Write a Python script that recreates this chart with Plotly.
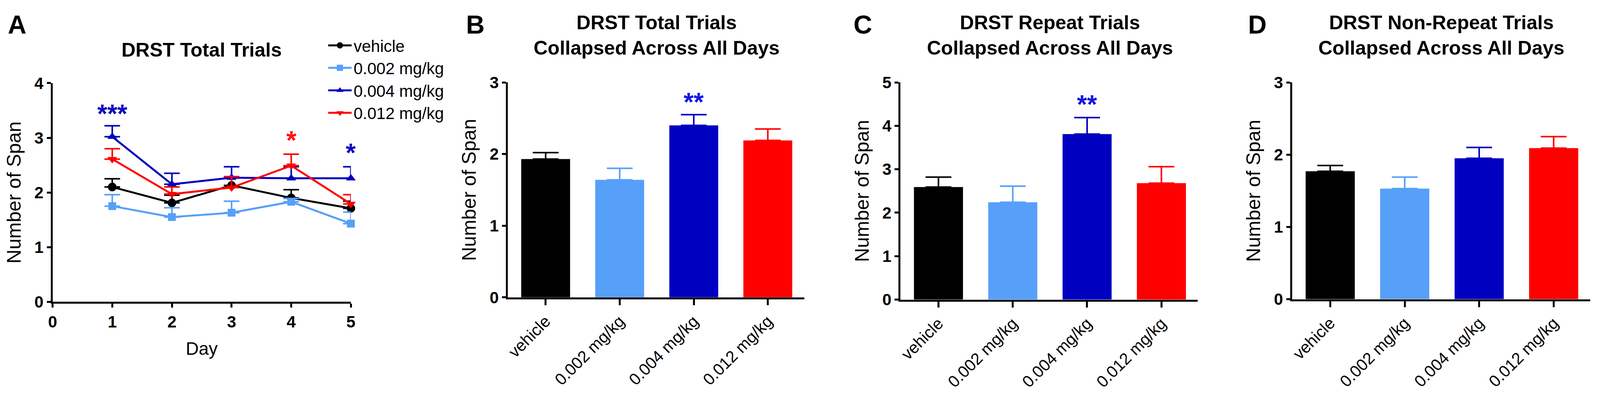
import plotly.graph_objects as go

# the browser shows 4096x1012 with an 8px body margin, so the figure is 4080x996
W, H = 4080, 996
SX = 4096 / 4650  # horizontal squeeze from reference pixels to screen pixels

# ---- data ----
groups = ["vehicle", "0.002 mg/kg", "0.004 mg/kg", "0.012 mg/kg"]
colors = ["#000000", "#56A0FA", "#0000C0", "#FF0000"]
symbols = ["circle", "square", "triangle-up", "triangle-down"]

days = [1, 2, 3, 4, 5]
day_mean = {
    "vehicle":     [2.10, 1.81, 2.13, 1.90, 1.71],
    "0.002 mg/kg": [1.75, 1.55, 1.63, 1.83, 1.43],
    "0.004 mg/kg": [3.02, 2.15, 2.27, 2.26, 2.26],
    "0.012 mg/kg": [2.61, 1.97, 2.09, 2.49, 1.79],
}
day_sem = {
    "vehicle":     [0.15, 0.14, 0.14, 0.15, 0.13],
    "0.002 mg/kg": [0.21, 0.17, 0.21, 0.06, 0.21],
    "0.004 mg/kg": [0.20, 0.20, 0.20, 0.21, 0.21],
    "0.012 mg/kg": [0.19, 0.13, 0.20, 0.21, 0.17],
}

total_mean = [1.93, 1.64, 2.40, 2.19]
total_sem = [0.09, 0.16, 0.15, 0.16]
repeat_mean = [2.59, 2.24, 3.81, 2.68]
repeat_sem = [0.23, 0.37, 0.38, 0.38]
nonrep_mean = [1.77, 1.53, 1.95, 2.09]
nonrep_sem = [0.08, 0.16, 0.15, 0.16]


def fx(p):
    # reference x pixel -> paper fraction
    return (p * SX - 8) / W


def fy(p):
    # reference y pixel -> paper fraction
    return 1 - (p - 8) / H


FONT = "Liberation Sans, Arial, Helvetica, sans-serif"
BOLD = dict(family=FONT, size=42, color="black", weight="bold")
REG = dict(family=FONT, size=42, color="black")

fig = go.Figure()

# ---- panel A: lines per day ----
for g, c, s in zip(groups, colors, symbols):
    up = day_sem[g]
    fig.add_trace(go.Scatter(
        x=days, y=day_mean[g], name=g, mode="lines+markers",
        line=dict(color=c, width=5),
        marker=dict(color=c, symbol=s, size=22 if s != "square" else 20),
        error_y=dict(type="data", symmetric=False, array=up,
                     arrayminus=[0] * len(up), color=c, thickness=4, width=20),
        xaxis="x", yaxis="y", cliponaxis=False,
    ))

# ---- panels B, C, D: bars ----
bar_sets = [(total_mean, total_sem, "x2", "y2"),
            (repeat_mean, repeat_sem, "x3", "y3"),
            (nonrep_mean, nonrep_sem, "x4", "y4")]
for m, e, xa, ya in bar_sets:
    for i, g in enumerate(groups):
        fig.add_trace(go.Bar(
            x=[g], y=[m[i]], width=0.66, marker=dict(color=colors[i], line=dict(width=0)),
            error_y=dict(type="data", symmetric=False, array=[e[i]], arrayminus=[0],
                         color=colors[i], thickness=4, width=33),
            xaxis=xa, yaxis=ya, showlegend=False, cliponaxis=False,
        ))

axis_common = dict(showline=True, linecolor="black", linewidth=5, ticks="outside",
                   tickcolor="black", tickwidth=5, showgrid=False, zeroline=False)
ytitle = dict(text="Number of Span", font=dict(family=FONT, size=50, color="black"), standoff=20)

layout_axes = {}
layout_axes["xaxis"] = dict(domain=[fx(140), fx(1012)], range=[0, 5],
                            tickvals=[0, 1, 2, 3, 4, 5], ticklen=10, tickfont=BOLD, anchor="y",
                            title=dict(text="Day", font=dict(family=FONT, size=46, color="black"),
                                       standoff=32), **axis_common)
layout_axes["yaxis"] = dict(domain=[fy(787), fy(199)], range=[0, 4], dtick=1,
                            ticklen=10, tickfont=BOLD, anchor="x", title=ytitle, **axis_common)

bar_dom = [((1471, 2337), (775, 197), 3), ((2619, 3488), (781, 197), 5),
           ((3764, 4635), (780, 197), 3)]
for k, ((x0, x1), (yb, yt), ymax) in enumerate(bar_dom, start=2):
    layout_axes[f"xaxis{k}"] = dict(domain=[fx(x0), fx(x1)], range=[-0.51, 3.49],
                                    type="category", ticklen=15, tickangle=-45,
                                    tickfont=REG, anchor=f"y{k}", **axis_common)
    layout_axes[f"yaxis{k}"] = dict(domain=[fy(yb), fy(yt)], range=[0, ymax], dtick=1,
                                    ticklen=10, tickfont=BOLD, anchor=f"x{k}",
                                    title=ytitle, **axis_common)

annotations = []
# panel letters
for letter, cx in [("A", 36), ("B", 1376), ("C", 2509), ("D", 3662)]:
    annotations.append(dict(text=letter, x=fx(cx), y=fy(42), xref="paper", yref="paper",
                            showarrow=False, xanchor="center", yanchor="middle",
                            font=dict(family=FONT, size=66, color="black", weight="bold")))
# titles
titles = [("DRST Total Trials", 576, 110),
          ("DRST Total Trials<br>Collapsed Across All Days", 1906, 70),
          ("DRST Repeat Trials<br>Collapsed Across All Days", 3056, 70),
          ("DRST Non-Repeat Trials<br>Collapsed Across All Days", 4200, 70)]
for t, cx, cy in titles:
    annotations.append(dict(text=t, x=fx(cx), y=fy(cy), xref="paper", yref="paper",
                            showarrow=False, xanchor="center", yanchor="middle",
                            font=dict(family=FONT, size=50, color="black", weight="bold")))
# significance stars
stars = [("***", 1, 3.44, "x", "y", "#0A0AC0"),
         ("*", 4, 2.96, "x", "y", "#FF1010"),
         ("*", 5, 2.73, "x", "y", "#0A0AC0"),
         ("**", "0.004 mg/kg", 2.73, "x2", "y2", "#1515E0"),
         ("**", "0.004 mg/kg", 4.50, "x3", "y3", "#1515E0")]
for t, x, y, xr, yr, c in stars:
    annotations.append(dict(text=t, x=x, y=y, xref=xr, yref=yr, showarrow=False,
                            xanchor="center", yanchor="middle",
                            font=dict(family=FONT, size=66, color=c, weight="bold")))

fig.update_layout(
    width=W, height=H, margin=dict(l=0, r=0, t=0, b=0),
    plot_bgcolor="white", paper_bgcolor="white",
    font=dict(family=FONT, color="black"),
    barmode="overlay",
    showlegend=True,
    legend=dict(x=fx(940), y=fy(62), xanchor="left", yanchor="top",
                font=dict(family=FONT, size=42, color="black"),
                itemwidth=60, bgcolor="rgba(0,0,0,0)", tracegroupgap=0),
    annotations=annotations,
    **layout_axes,
)

fig.write_html("out.html")
